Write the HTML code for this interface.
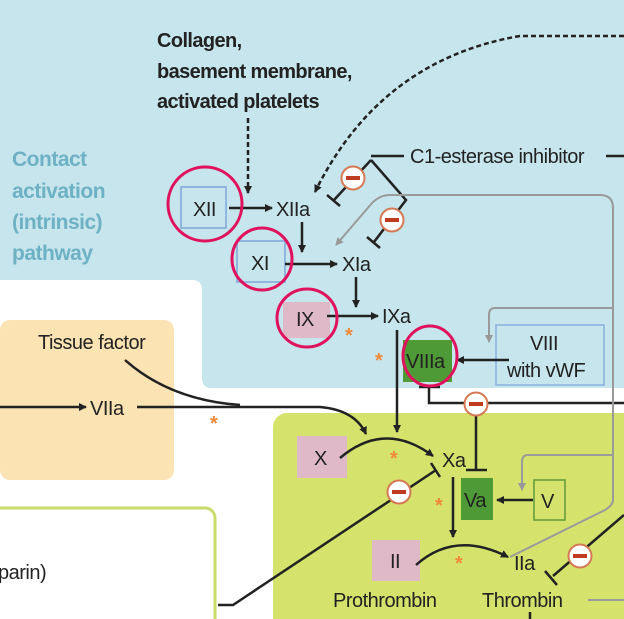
<!DOCTYPE html>
<html><head><meta charset="utf-8"><style>
body{margin:0;width:624px;height:619px;overflow:hidden;background:#fff}
svg{display:block}
text{font-family:"Liberation Sans",sans-serif;fill:#222}
.c{font-size:20px;letter-spacing:-0.5px}
</style></head><body>
<svg width="624" height="619" viewBox="0 0 624 619" xmlns="http://www.w3.org/2000/svg">
<defs>
<marker id="a" markerWidth="8" markerHeight="8" refX="7" refY="4" orient="auto" markerUnits="userSpaceOnUse"><path d="M0,0 L8,4 L0,8z" fill="#222"/></marker>
<marker id="g" markerWidth="8" markerHeight="8" refX="7" refY="4" orient="auto" markerUnits="userSpaceOnUse"><path d="M0,0 L8,4 L0,8z" fill="#999"/></marker>
</defs>
<path d="M12,0 H624 V388 H212 Q202,388 202,378 V290 Q202,280 192,280 H0 V0z" fill="#c6e5ec"/>
<rect x="0" y="320" width="174" height="160" rx="10" fill="#fbe3b3"/>
<rect x="273" y="413" width="370" height="230" rx="14" fill="#d5e26c"/>
<rect x="-20" y="508" width="235" height="140" rx="10" fill="#fff" stroke="#c8dc6a" stroke-width="3"/>
<g font-weight="bold" font-size="20" letter-spacing="-0.6">
<text x="157" y="47">Collagen,</text>
<text x="157" y="78">basement membrane,</text>
<text x="157" y="108">activated platelets</text></g>
<g font-size="21" font-weight="bold" letter-spacing="-0.5">
<text x="12" y="166" style="fill:#6eb1c4">Contact</text>
<text x="12" y="198" style="fill:#6eb1c4">activation</text>
<text x="12" y="229" style="fill:#6eb1c4">(intrinsic)</text>
<text x="12" y="260" style="fill:#6eb1c4">pathway</text></g>
<text class="c" x="410" y="163">C1-esterase inhibitor</text>
<line x1="606" y1="156" x2="624" y2="156" stroke="#222" stroke-width="2.5"/>
<rect x="181" y="187" width="45" height="41" fill="none" stroke="#7fa6d8" stroke-width="1.5"/>
<text class="c" x="193" y="216">XII</text>
<rect x="237" y="241" width="48" height="41" fill="none" stroke="#7fa6d8" stroke-width="1.5"/>
<text class="c" x="251" y="270">XI</text>
<rect x="283" y="302" width="47" height="36" fill="#e0b9c9"/>
<text class="c" x="296" y="326">IX</text>
<rect x="403" y="340" width="49" height="42" fill="#4e9a36"/>
<text class="c" x="406" y="368">VIIIa</text>
<rect x="496" y="325" width="108" height="60" fill="none" stroke="#88b0dc" stroke-width="1.5"/>
<text class="c" x="530" y="350">VIII</text>
<text class="c" x="507" y="377">with vWF</text>
<rect x="297" y="436" width="50" height="42" fill="#e0b9c9"/>
<text class="c" x="314" y="465">X</text>
<rect x="461" y="478" width="32" height="42" fill="#4e9a36"/>
<text class="c" x="464" y="507">Va</text>
<rect x="534" y="480" width="31" height="40" fill="none" stroke="#5f9a3a" stroke-width="1.5"/>
<text class="c" x="541" y="508">V</text>
<rect x="372" y="540" width="48" height="41" fill="#e0b9c9"/>
<text class="c" x="390" y="568">II</text>
<text class="c" x="276" y="216">XIIa</text>
<text class="c" x="342" y="271">XIa</text>
<text class="c" x="382" y="323">IXa</text>
<text class="c" x="442" y="467">Xa</text>
<text class="c" x="514" y="570">IIa</text>
<text class="c" x="90" y="415">VIIa</text>
<text class="c" x="38" y="349">Tissue factor</text>
<text class="c" x="333" y="607">Prothrombin</text>
<text class="c" x="482" y="607">Thrombin</text>
<text class="c" x="-2" y="579">parin)</text>
<g stroke="#222" stroke-width="2.5" fill="none">
<line x1="248" y1="118" x2="248" y2="193" stroke-dasharray="5,3" marker-end="url(#a)"/>
<path d="M624,36 H520 Q380,60 315,192" stroke-dasharray="5,3" marker-end="url(#a)"/>
<line x1="229" y1="208" x2="272" y2="208" marker-end="url(#a)"/>
<line x1="302" y1="222" x2="302" y2="252" marker-end="url(#a)"/>
<line x1="285" y1="264" x2="337" y2="264" marker-end="url(#a)"/>
<line x1="356" y1="277" x2="356" y2="307" marker-end="url(#a)"/>
<line x1="327" y1="316" x2="378" y2="316" marker-end="url(#a)"/>
<line x1="397" y1="330" x2="397" y2="432" marker-end="url(#a)"/>
<line x1="509" y1="360" x2="457" y2="360" marker-end="url(#a)"/>
<line x1="0" y1="407" x2="86" y2="407" marker-end="url(#a)"/>
<path d="M137,407 H320 Q355,410 366,434" marker-end="url(#a)"/>
<path d="M125,360 Q170,400 240,405"/>
<path d="M340,458 Q385,420 433,456" marker-end="url(#a)"/>
<line x1="453" y1="477" x2="453" y2="537" marker-end="url(#a)"/>
<line x1="533" y1="500" x2="497" y2="500" marker-end="url(#a)"/>
<path d="M416,565 Q455,530 508,557" marker-end="url(#a)"/>
<path d="M371,156 H404"/>
<path d="M371,160 L334,200"/><line x1="327" y1="195" x2="340" y2="206"/>
<path d="M371,160 L406,200 L374,242"/><line x1="367" y1="237" x2="380" y2="248"/>
<path d="M429,385 V403 H624"/><line x1="419" y1="387" x2="440" y2="387"/>
<line x1="476" y1="410" x2="476" y2="470"/><line x1="466" y1="470" x2="487" y2="470"/>
<path d="M218,605 H233 L436,470"/><line x1="431" y1="463" x2="440" y2="477"/>
<line x1="624" y1="515" x2="553" y2="576"/><line x1="545" y1="571" x2="557" y2="585"/>
<line x1="530" y1="612" x2="530" y2="619"/>
</g>
<g stroke="#9a9a9a" stroke-width="2" fill="none">
<path d="M600,195 H390 Q380,195 372,203 L336,245" marker-end="url(#g)"/>
<path d="M600,195 Q613,195 613,208 V500 Q613,505 605,510 L510,557"/>
<path d="M613,308 H495 Q489,308 489,315 V342" marker-end="url(#g)"/>
<path d="M613,455 H528 Q522,455 522,462 V490" marker-end="url(#g)"/>
<line x1="588" y1="600" x2="624" y2="600"/>
</g>
<g>
<g transform="translate(353,178)"><circle r="11.5" fill="#fff" stroke="#d57a55" stroke-width="2"/><rect x="-7" y="-2" width="14" height="4" fill="#c03a20"/></g>
<g transform="translate(392,220)"><circle r="11.5" fill="#fff" stroke="#d57a55" stroke-width="2"/><rect x="-7" y="-2" width="14" height="4" fill="#c03a20"/></g>
<g transform="translate(476,404)"><circle r="11.5" fill="#fff" stroke="#d57a55" stroke-width="2"/><rect x="-7" y="-2" width="14" height="4" fill="#c03a20"/></g>
<g transform="translate(399,492)"><circle r="11.5" fill="#fff" stroke="#d57a55" stroke-width="2"/><rect x="-7" y="-2" width="14" height="4" fill="#c03a20"/></g>
<g transform="translate(580,556)"><circle r="11.5" fill="#fff" stroke="#d57a55" stroke-width="2"/><rect x="-7" y="-2" width="14" height="4" fill="#c03a20"/></g>
</g>
<g font-size="20" font-weight="bold">
<text x="210" y="430" style="fill:#f08a3a">*</text>
<text x="345" y="342" style="fill:#f08a3a">*</text>
<text x="375" y="367" style="fill:#f08a3a">*</text>
<text x="390" y="465" style="fill:#f08a3a">*</text>
<text x="435" y="512" style="fill:#f08a3a">*</text>
<text x="455" y="570" style="fill:#f08a3a">*</text>
</g>
<g stroke="#e0125e" stroke-width="3" fill="none">
<ellipse cx="205" cy="204" rx="37" ry="37"/>
<ellipse cx="262" cy="259" rx="30" ry="31"/>
<ellipse cx="307" cy="318" rx="30" ry="29"/>
<ellipse cx="430" cy="356" rx="27" ry="30"/>
</g>
</svg>
</body></html>
